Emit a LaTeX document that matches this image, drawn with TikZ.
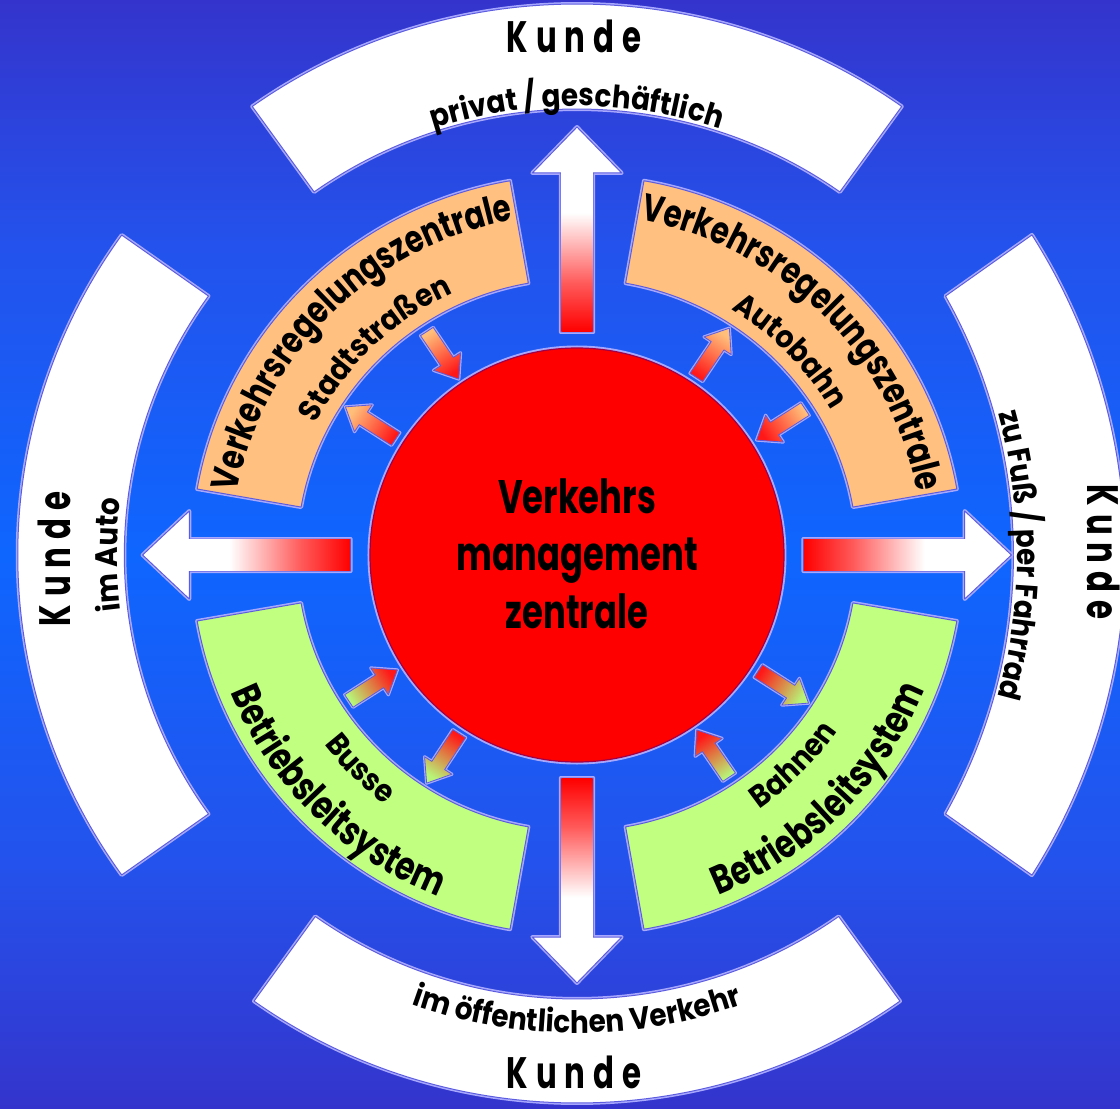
\documentclass[tikz,border=0pt]{standalone}
\usepackage{fontspec}
\usetikzlibrary{decorations.text,calc}
\newfontfamily\kcond{Poppins}[FakeStretch=0.72]
\newfontfamily\kmid{Poppins}[FakeStretch=0.77]
\newfontfamily\ksmall{Poppins}[FakeStretch=0.9]
\newfontfamily\kkunde{Poppins}[FakeStretch=0.7,LetterSpace=18]
\newcommand\fCenter{\kcond\bfseries\fontsize{47}{57}\selectfont}
\newcommand\fBigO{\kmid\bfseries\fontsize{38}{44}\selectfont}
\newcommand\fBigG{\kmid\bfseries\fontsize{40}{46}\selectfont}
\newcommand\fSmall{\ksmall\bfseries\fontsize{31}{36}\selectfont}
\newcommand\fKunde{\kkunde\bfseries\fontsize{44}{50}\selectfont}
\definecolor{bgTop}{HTML}{3434CC}
\definecolor{bgQuart}{HTML}{2452EC}
\definecolor{bgMid}{HTML}{0E66FF}
\definecolor{haloC}{HTML}{A8A8FF}
\definecolor{edgeC}{HTML}{5C5CE0}
\definecolor{peach}{HTML}{FFC080}
\definecolor{lgreen}{HTML}{C0FF80}
\definecolor{arrPeach}{HTML}{FFBE7A}
\definecolor{arrGreen}{HTML}{B8F478}
\definecolor{arrRed}{HTML}{FF1818}
\definecolor{circEdge}{HTML}{A00048}
\pgfdeclareverticalshading{bigarr}{100bp}{color(0bp)=(red); color(25bp)=(red); color(40bp)=(red!65!white); color(62bp)=(white); color(100bp)=(white)}
\pgfdeclareverticalshading{bgshade}{100bp}{color(0bp)=(bgTop); color(25bp)=(bgTop); color(36bp)=(bgQuart); color(50bp)=(bgMid); color(64bp)=(bgQuart); color(75bp)=(bgTop); color(100bp)=(bgTop)}
\newcommand\ringseg[4]{(#1:#4pt) arc[start angle=#1, end angle=#2, radius=#4pt] -- (#2:#3pt) arc[start angle=#2, end angle=#1, radius=#3pt] -- cycle}
\tikzset{
  halo/.style={preaction={draw=haloC, line width=4pt, line join=round}, draw=edgeC, line width=1pt, line join=round},
  smallhalo/.style={preaction={draw=haloC, line width=3.2pt, line join=round}, draw=edgeC, line width=0.8pt, line join=round},
  ctext/.style={decorate, decoration={text along path, text align=center, text={#1}}},
  kunde/.style={font=\fKunde, inner sep=0pt, anchor=base},
  centertext/.style={font=\fCenter, inner sep=0pt, anchor=base},
}
\newcommand\bigarrow[2]{%
  \pgfmathsetmacro\shadeang{#2-90}%
  \begin{scope}[x={(#2-90:1pt)}, y={(#2:1pt)}]
    \path[halo, fill=white] (-16,223) -- (16,223) -- (16,382) -- (44,382) -- (0,428) coordinate (#1) -- (-44,382) -- (-16,382) -- cycle;
    \shade[shading=bigarr, shading angle=\shadeang] (-15.5,223.5) -- (15.5,223.5) -- (15.5,384) -- (-15.5,384) -- cycle;
  \end{scope}}
\newcommand\outarrow[2]{%
  \pgfmathsetmacro\shadeang{#1-90}%
  \begin{scope}[x={(#1-90:1pt)}, y={(#1:1pt)}]
    \shade[smallhalo, bottom color=arrRed, top color=#2, shading angle=\shadeang]
      (-7.5,213) -- (7.5,213) -- (7.5,251) -- (16,251) -- (0,272) -- (-16,251) -- (-7.5,251) -- cycle;
  \end{scope}}
\newcommand\inarrow[2]{%
  \pgfmathsetmacro\shadeang{#1-90}%
  \begin{scope}[x={(#1-90:1pt)}, y={(#1:1pt)}]
    \shade[smallhalo, bottom color=arrRed, top color=#2, shading angle=\shadeang]
      (-7.5,268) -- (7.5,268) -- (7.5,232) -- (16,232) -- (0,211) -- (-16,232) -- (-7.5,232) -- cycle;
  \end{scope}}
\begin{document}
\begin{tikzpicture}[x=1pt, y=1pt]
  \useasboundingbox (-577,-554) rectangle (543,555);
  \shade[shading=bgshade] (-577,-554) rectangle (543,555);
  \begin{scope}[xscale=1.015]
    % outer customer ring
    \path[halo, fill=white] \ringseg{54.5}{125.5}{446}{551};
    \path[halo, fill=white] \ringseg{144.5}{215.5}{446}{551};
    \path[halo, fill=white] \ringseg{234.5}{305.5}{444}{548};
    \path[halo, fill=white] ($(-64pt,0pt)+(32:604pt)$) arc[start angle=32, end angle=-32, radius=604pt]
       -- ($(-104pt,0pt)+(-29:534pt)$) arc[start angle=-29, end angle=29, radius=534pt] -- cycle;
    % middle ring
    \path[halo, fill=peach] \ringseg{100}{170}{276}{380};
    \path[halo, fill=peach] \ringseg{10}{80}{276}{380};
    \path[halo, fill=lgreen] \ringseg{190}{260}{276}{380};
    \path[halo, fill=lgreen] \ringseg{280}{350}{276}{380};
    % big arrows
    \bigarrow{aU}{90}
    \bigarrow{aR}{0}
    \bigarrow{aD}{270}
    \bigarrow{aL}{180}
    % small arrows
    \inarrow{123.5}{arrPeach}
    \outarrow{147}{arrPeach}
    \outarrow{56.5}{arrPeach}
    \inarrow{33}{arrPeach}
    \inarrow{213}{arrGreen}
    \outarrow{237}{arrGreen}
    \outarrow{327}{arrGreen}
    \inarrow{304}{arrGreen}
    % centre
    \node[circle, fill=red, draw=circEdge, line width=1.2pt, preaction={draw=haloC, line width=5pt},
          minimum size=414pt, inner sep=0pt] (vmz) at (0,0) {};
    \node[centertext] (c1) at (0,42) {Verkehrs};
    \node[centertext] (c2) at (0,-15) {management};
    \node[centertext] (c3) at (0,-73) {zentrale};
    % Kunde labels
    \node[kunde] (kT) at (-3,502) {Kunde};
    \node[kunde] (kB) at (-3,-533) {Kunde};
    \node[kunde, rotate=90] (kL) at (-499.5,-4) {Kunde};
    \node[kunde, rotate=-90] (kR) at (502.5,3) {Kunde};
    % curved texts, outer ring
    \path[ctext={|\fSmall|privat / geschäftlich}] (125:449pt) arc[start angle=125, end angle=55, radius=449pt];
    \path[ctext={|\fSmall|im Auto}] (215:453pt) arc[start angle=215, end angle=145, radius=453pt];
    \path[ctext={|\fSmall|zu Fuß / per Fahrrad}] ($(-100pt,0pt)+(22:534pt)$) arc[start angle=22, end angle=-22, radius=534pt];
    \path[ctext={|\fSmall|im öffentlichen Verkehr}] (235:478pt) arc[start angle=235, end angle=305, radius=478pt];
    % curved texts, middle ring
    \path[ctext={|\fBigO|Verkehrsregelungszentrale}] (172:341pt) arc[start angle=172, end angle=98, radius=341pt];
    \path[ctext={|\fSmall|Stadtstraßen}] (164:289pt) arc[start angle=164, end angle=104, radius=289pt];
    \path[ctext={|\fBigO|Verkehrsregelungszentrale}] (82:341pt) arc[start angle=82, end angle=8, radius=341pt];
    \path[ctext={|\fSmall|Autobahn}] (74:289pt) arc[start angle=74, end angle=14, radius=289pt];
    \path[ctext={|\fBigG|Betriebsleitsystem}] (188:368pt) arc[start angle=188, end angle=262, radius=368pt];
    \path[ctext={|\fSmall|Busse}] (195:313pt) arc[start angle=195, end angle=255, radius=313pt];
    \path[ctext={|\fBigG|Betriebsleitsystem}] (278.5:368pt) arc[start angle=278.5, end angle=352.5, radius=368pt];
    \path[ctext={|\fSmall|Bahnen}] (285.5:311pt) arc[start angle=285.5, end angle=345.5, radius=311pt];
  \end{scope}
\end{tikzpicture}
\end{document}
